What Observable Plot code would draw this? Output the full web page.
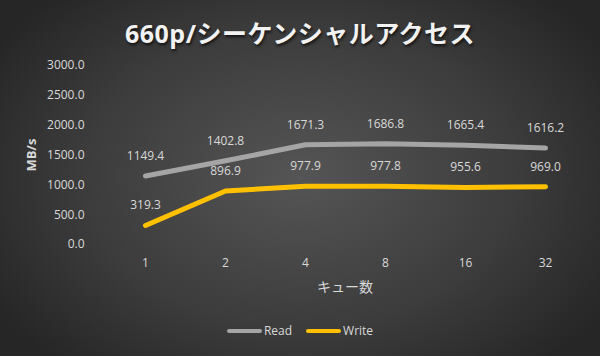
<!DOCTYPE html>
<html><head><meta charset="utf-8">
<script src="https://cdn.jsdelivr.net/npm/d3@7"></script>
<script src="https://cdn.jsdelivr.net/npm/@observablehq/plot@0.6"></script>
<style>
html,body{margin:0;padding:0;}
#wrap{width:600px;height:356px;position:relative;overflow:hidden;
 background:radial-gradient(ellipse 60% 70% at 50% 50%, #555555 0%, #3c3c3c 60%, #262626 100%);
 font-family:"Open Sans","Noto Sans CJK JP",sans-serif;}
#title{position:absolute;top:14px;left:0;width:600px;text-align:center;color:#f2f2f2;font-size:25px;font-weight:bold;
 font-family:"Open Sans","Noto Sans CJK JP",sans-serif;text-shadow:1px 2px 3px rgba(0,0,0,0.7);letter-spacing:0.5px;}
#chart{position:absolute;top:50px;left:0;}
#legend{position:absolute;top:322px;left:0;width:600px;display:flex;justify-content:center;align-items:center;color:#d9d9d9;font-size:12px;}
#legend .sw{display:inline-block;width:35px;height:4px;border-radius:2px;margin-right:2px;}
#legend .it{display:flex;align-items:center;margin:0 7px;}
</style></head>
<body><div id="wrap"><div id="title">660p/シーケンシャルアクセス</div><div id="chart"></div><div id="legend"></div></div>
<script>
const queues = ["1","2","4","8","16","32"];
const readValues = [1149.4,1402.8,1671.3,1686.8,1665.4,1616.2];
const writeValues = [319.3,896.9,977.9,977.8,955.6,969.0];
const yTicks = [0,500,1000,1500,2000,2500,3000];
const seriesNames = ["Read","Write"];
const seriesColors = ["#a5a5a5","#ffc000"];

const data = [];
queues.forEach((q,i)=>{
  data.push({q, s:"Read", v:readValues[i]});
  data.push({q, s:"Write", v:writeValues[i]});
});

const plot = Plot.plot({
  width:600, height:260,
  marginLeft:102, marginRight:13, marginTop:15, marginBottom:66,
  style:{background:"transparent", color:"#d9d9d9", fontSize:"12px", fontFamily:"'Open Sans','Noto Sans CJK JP',sans-serif"},
  x:{type:"point", domain:queues, padding:0.5, label:"キュー数", labelAnchor:"center", labelOffset:47, tickSize:0, tickPadding:14},
  y:{domain:[0,3000], ticks:yTicks, tickFormat:d=>d.toFixed(1), label:"MB/s", labelAnchor:"center", labelArrow:"none", labelOffset:76, tickSize:0, tickPadding:18},
  color:{domain:seriesNames, range:seriesColors},
  marks:[
    Plot.gridY(yTicks,{stroke:"#5e5e5e", strokeOpacity:1, strokeWidth:1, x1:102, x2:587}),
    Plot.line(data,{x:"q", y:"v", z:"s", stroke:"s", strokeWidth:5, strokeLinecap:"round", strokeLinejoin:"round"}),
    Plot.text(data,{x:"q", y:"v", text:d=>d.v.toFixed(1), dy:-20, fill:"#d9d9d9", fontSize:12})
  ]
});
plot.querySelectorAll('[aria-label="x-axis label"] text').forEach(t=>{
  t.setAttribute("font-size","14px");
  t.setAttribute("fill","#d9d9d9");
});
plot.querySelectorAll('[aria-label="y-axis label"] text').forEach(t=>{
  t.setAttribute("font-weight","bold");
  t.setAttribute("font-size","13px");
  t.setAttribute("fill","#d9d9d9");
});
document.getElementById("chart").appendChild(plot);

const lg = document.getElementById("legend");
seriesNames.forEach((n,i)=>{
  const it = document.createElement("span"); it.className="it";
  const sw = document.createElement("span"); sw.className="sw"; sw.style.background=seriesColors[i];
  it.appendChild(sw); it.appendChild(document.createTextNode(n)); lg.appendChild(it);
});
</script></body></html>
